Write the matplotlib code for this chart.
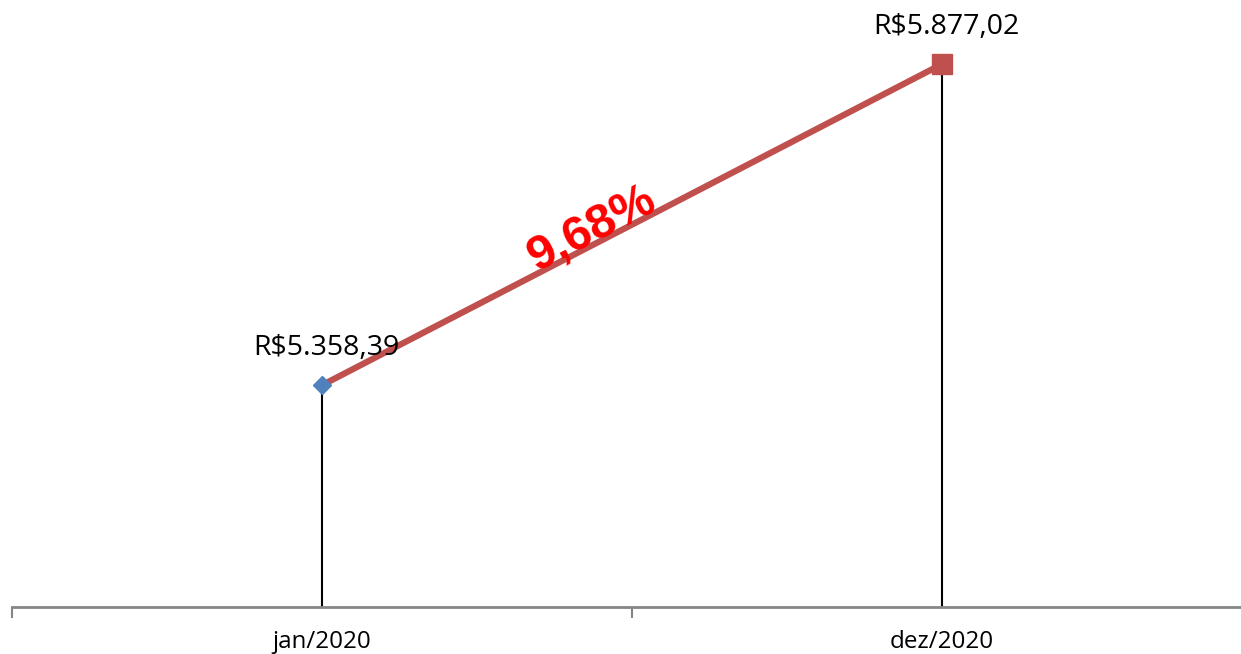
import matplotlib
matplotlib.use("Agg")
import matplotlib.pyplot as plt
import numpy as np

categories = ["jan/2020", "dez/2020"]
values = [5358.39, 5877.02]
value_labels = ["R$5.358,39", "R$5.877,02"]
change_label = "9,68%"

W, H = 1241, 654
fig = plt.figure(figsize=(W / 100, H / 100), dpi=100)
ax_left = 12 / W
ax_bottom = (H - 607) / H
ax_w = 1240 / W
ax_h = 619 / H
ax = fig.add_axes([ax_left, ax_bottom, ax_w, ax_h])
ax.set_xlim(-0.5, 1.5)
ax.set_ylim(5000, 6000)

x = np.arange(len(categories))
# drop lines
ax.vlines(x, 5000, values, colors="black", linewidth=1.5, zorder=2)
# connecting line
ax.plot(x, values, color="#C0504D", linewidth=4.5, zorder=3, solid_capstyle="butt")
# markers
ax.plot(x[0], values[0], marker="D", markersize=9.5, color="#4F81BD", zorder=4, linestyle="none")
ax.plot(x[1], values[1], marker="s", markersize=14.5, color="#C0504D", zorder=4, linestyle="none")

font = "Open Sans"
for xi, v, lab in zip(x, values, value_labels):
    ax.annotate(lab, (xi, v), xytext=(3.5, 17), textcoords="offset points",
                ha="center", va="bottom", fontsize=20.5, family=font)

# percent label along the line
xm = 0.446
ym = values[0] + (values[1] - values[0]) * (xm - x[0]) / (x[1] - x[0])
p0 = ax.transData.transform((x[0], values[0]))
p1 = ax.transData.transform((x[1], values[1]))
ang = np.degrees(np.arctan2(p1[1] - p0[1], p1[0] - p0[0]))
d = 14 / 1.389
ax.annotate(change_label, (xm, ym),
            xytext=(-d * np.sin(np.radians(ang)), d * np.cos(np.radians(ang))),
            textcoords="offset points",
            ha="center", va="center", rotation=ang, rotation_mode="anchor",
            fontsize=35, fontweight="bold", color="#FF0000", family="Liberation Sans",
            zorder=5)

for s in ["left", "right", "top"]:
    ax.spines[s].set_visible(False)
ax.spines["bottom"].set_color("#868686")
ax.spines["bottom"].set_linewidth(2)
ax.set_yticks([])
ax.set_xticks([-0.5, 0.5, 1.5], minor=False)
ax.set_xticklabels([])
ax.tick_params(axis="x", which="major", direction="out", length=8, width=1.5, color="#868686")
ax.set_xticks(x, minor=True)
ax.set_xticklabels(categories, minor=True, fontsize=17.4, family=font)
ax.tick_params(axis="x", which="minor", length=0, pad=16.5)
ax.patch.set_alpha(0)

fig.savefig("out.png", dpi=100)
